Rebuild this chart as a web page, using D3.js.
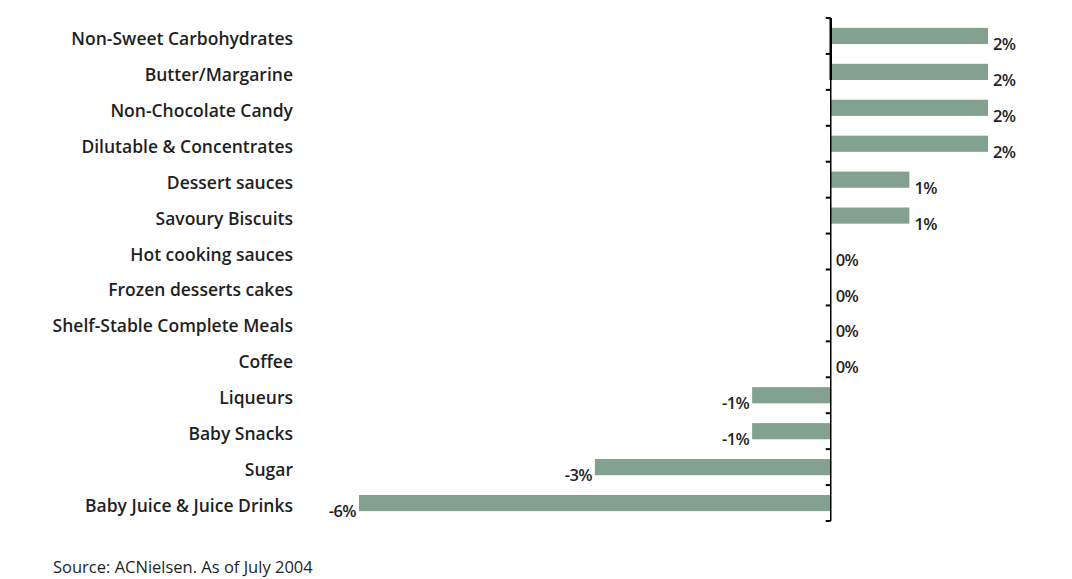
<!DOCTYPE html>
<html>
<head>
<meta charset="utf-8">
<script src="https://cdn.jsdelivr.net/npm/d3@7"></script>
<style>
  body { margin: 0; background: #fff; }
  text { font-family: "Open Sans", "Noto Sans", sans-serif; fill: #1f1f1f; }
</style>
</head>
<body>
<div id="chart-area"></div>
<script>
(function () {
  // Data
  const categories = [
    "Non-Sweet Carbohydrates",
    "Butter/Margarine",
    "Non-Chocolate Candy",
    "Dilutable & Concentrates",
    "Dessert sauces",
    "Savoury Biscuits",
    "Hot cooking sauces",
    "Frozen desserts cakes",
    "Shelf-Stable Complete Meals",
    "Coffee",
    "Liqueurs",
    "Baby Snacks",
    "Sugar",
    "Baby Juice & Juice Drinks"
  ];
  const values = [2, 2, 2, 2, 1, 1, 0, 0, 0, 0, -1, -1, -3, -6];
  const sourceNote = "Source: ACNielsen. As of July 2004";

  const width = 1072;
  const height = 579;

  const svg = d3.select("#chart-area")
    .append("svg")
    .attr("width", width)
    .attr("height", height);

  // Scales
  const xScale = d3.scaleLinear().domain([-6, 2]).range([359, 988]);
  const yScale = d3.scaleBand()
    .domain(categories)
    .range([18, 521])
    .paddingInner(0.55)
    .paddingOuter(0.275);

  const x0 = xScale(0);

  // Bars
  svg.selectAll(".bar")
    .data(values)
    .enter()
    .append("rect")
    .attr("class", "bar")
    .attr("x", (d) => Math.min(xScale(d), x0))
    .attr("y", (d, i) => yScale(categories[i]))
    .attr("width", (d) => Math.abs(xScale(d) - x0))
    .attr("height", yScale.bandwidth())
    .attr("fill", "#82a28f");

  // Axis line + ticks between rows
  svg.append("line")
    .attr("x1", x0).attr("x2", x0)
    .attr("y1", yScale.range()[0]).attr("y2", yScale.range()[1])
    .attr("stroke", "#000")
    .attr("stroke-width", 1.5);
  // heavier top part of the axis, as in the original
  svg.append("line")
    .attr("x1", x0).attr("x2", x0)
    .attr("y1", yScale.range()[0]).attr("y2", yScale(categories[1]) + yScale.bandwidth())
    .attr("stroke", "#000")
    .attr("stroke-width", 2.5);

  const step = yScale.step();
  svg.selectAll(".tick")
    .data(d3.range(categories.length + 1))
    .enter()
    .append("line")
    .attr("x1", x0 - 5).attr("x2", x0)
    .attr("y1", (i) => yScale.range()[0] + i * step)
    .attr("y2", (i) => yScale.range()[0] + i * step)
    .attr("stroke", "#000")
    .attr("stroke-width", 2);

  // Category labels
  svg.selectAll(".cat")
    .data(categories)
    .enter()
    .append("text")
    .attr("x", 293)
    .attr("y", (d) => yScale(d) + yScale.bandwidth() / 2 + 9)
    .attr("text-anchor", "end")
    .attr("font-size", 17.5)
    .style("font-weight", 600)
    .text((d) => d);

  // Value labels
  svg.selectAll(".val")
    .data(values)
    .enter()
    .append("text")
    .attr("x", (d) => d < 0 ? xScale(d) - 3 : Math.max(xScale(d), x0) + 5)
    .attr("y", (d, i) => yScale(categories[i]) + yScale.bandwidth() + 6)
    .attr("text-anchor", (d) => d < 0 ? "end" : "start")
    .attr("font-size", 16.5)
    .attr("letter-spacing", -0.6)
    .style("font-weight", 600)
    .text((d) => d + "%");

  // Source
  svg.append("text")
    .attr("x", 53)
    .attr("y", 573)
    .attr("font-size", 16.5)
    .style("font-weight", 400)
    .attr("fill", "#222")
    .text(sourceNote);
})();
</script>
</body>
</html>
